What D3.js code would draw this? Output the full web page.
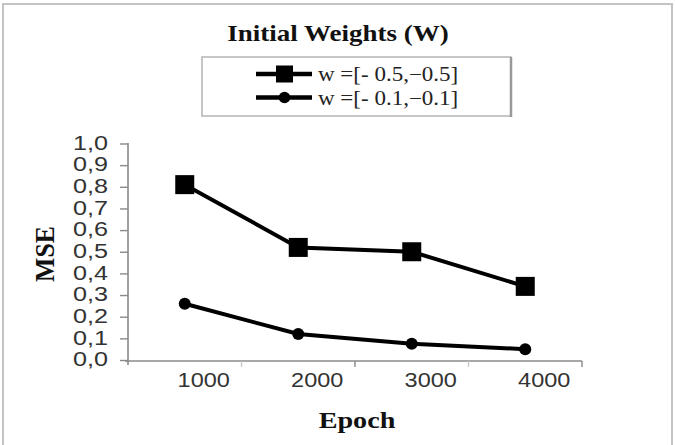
<!DOCTYPE html>
<html><head><meta charset="utf-8">
<script src="https://cdn.jsdelivr.net/npm/d3@7"></script>
<style>html,body{margin:0;padding:0;background:#fff;}svg{display:block;}</style>
</head><body>
<svg id="chart" width="675" height="445"></svg>
<script>
const categories = ["1000", "2000", "3000", "4000"];
const seriesNames = ["w =[- 0.5,\u22120.5]", "w =[- 0.1,\u22120.1]"];
const seriesA = [0.81, 0.52, 0.50, 0.34];
const seriesB = [0.26, 0.12, 0.075, 0.05];
const yTicks = [0, 0.1, 0.2, 0.3, 0.4, 0.5, 0.6, 0.7, 0.8, 0.9, 1.0];

const svg = d3.select("#chart");
const SX = 1.2; // horizontal text stretch of the reference

// outer border
svg.append("rect").attr("x", 3).attr("y", 4).attr("width", 669).attr("height", 460)
  .attr("fill", "none").attr("stroke", "#c4c4c4").attr("stroke-width", 2);

const x = d3.scaleBand().domain(categories).range([128, 582]).padding(0);
const y = d3.scaleLinear().domain([0, 1]).range([360, 143.5]);
const cx = d => x(d) + x.bandwidth() / 2;

const loc = d3.formatLocale({decimal: ",", thousands: ".", grouping: [3], currency: ["", ""]});
const fmt = loc.format(".1f");

// Y axis
const gy = svg.append("g").attr("transform", "translate(128,0)")
  .call(d3.axisLeft(y).tickValues(yTicks).tickFormat(fmt).tickSize(8).tickPadding(12).tickSizeOuter(0));
gy.select(".domain").attr("stroke", "#8a8a8a").attr("stroke-width", 1.6)
  .attr("d", "M0," + (y(1) - 0.5) + "V" + (y(0) + 5));
gy.selectAll(".tick line").attr("stroke", "#8a8a8a").attr("stroke-width", 1.4);
gy.selectAll(".tick text")
  .attr("font-family", "Liberation Sans, Arial, sans-serif").attr("font-size", 21)
  .attr("fill", "#333").attr("x", -20 / SX).attr("dy", "0.27em")
  .attr("transform", `scale(${SX},1)`);

// X axis
const gx = svg.append("g").attr("transform", "translate(0,361)");
gx.append("line").attr("x1", 125).attr("x2", x.range()[1]).attr("y1", 0).attr("y2", 0)
  .attr("stroke", "#8a8a8a").attr("stroke-width", 1.6);
const bounds = categories.map(d => x(d)).slice(1).concat([x.range()[1]]);
gx.selectAll("line.tk").data(bounds).join("line").attr("class", "tk")
  .attr("x1", d => d).attr("x2", d => d).attr("y1", 0).attr("y2", 6)
  .attr("stroke", (d, i) => i % 2 === 1 ? "#8a8a8a" : "#c8c8c8").attr("stroke-width", 1.4);
gx.selectAll("text").data(categories).join("text")
  .attr("transform", d => `translate(${cx(d) + 19},26) scale(1.12,1)`)
  .attr("text-anchor", "middle")
  .attr("font-family", "Liberation Sans, Arial, sans-serif").attr("font-size", 21)
  .attr("fill", "#333").text(d => d);

// lines
const line = d3.line().x((d, i) => cx(categories[i])).y(d => y(d));
svg.append("path").datum(seriesA).attr("d", line).attr("fill", "none")
  .attr("stroke", "#000").attr("stroke-width", 4);
svg.append("path").datum(seriesB).attr("d", line).attr("fill", "none")
  .attr("stroke", "#000").attr("stroke-width", 4);
const sq = 19;
svg.selectAll("rect.mA").data(seriesA).join("rect").attr("class", "mA")
  .attr("x", (d, i) => cx(categories[i]) - sq / 2).attr("y", d => y(d) - sq / 2)
  .attr("width", sq).attr("height", sq).attr("fill", "#000");
svg.selectAll("circle.mB").data(seriesB).join("circle").attr("class", "mB")
  .attr("cx", (d, i) => cx(categories[i])).attr("cy", d => y(d)).attr("r", 6).attr("fill", "#000");

// Title
svg.append("text").attr("transform", `translate(338,41) scale(${SX},1)`)
  .attr("text-anchor", "middle").attr("font-family", "Liberation Serif, Times New Roman, serif")
  .attr("font-weight", "bold").attr("font-size", 22.5).attr("fill", "#111").text("Initial Weights (W)");

// Legend
svg.append("rect").attr("x", 202).attr("y", 57).attr("width", 309).attr("height", 59)
  .attr("fill", "#fff").attr("stroke", "#b4b4b4").attr("stroke-width", 1.5);
svg.append("line").attr("x1", 511).attr("x2", 511).attr("y1", 57).attr("y2", 117)
  .attr("stroke", "#999").attr("stroke-width", 2.5);
const legY = [74, 97.5];
seriesNames.forEach((name, i) => {
  const g = svg.append("g").attr("transform", `translate(0,${legY[i]})`);
  g.append("line").attr("x1", 256).attr("x2", 312).attr("stroke", "#000").attr("stroke-width", 4.5);
  if (i === 0) g.append("rect").attr("x", 276).attr("y", -8.5).attr("width", 17).attr("height", 17).attr("fill", "#000");
  else g.append("circle").attr("cx", 284.5).attr("cy", 0).attr("r", 5.8).attr("fill", "#000");
  g.append("text").attr("transform", `translate(318,7) scale(1.15,1)`)
    .attr("font-family", "Liberation Serif, Times New Roman, serif").attr("font-size", 20)
    .attr("fill", "#222").text(name);
});

// Axis titles
svg.append("text").attr("transform", `translate(54,254) rotate(-90) scale(1.12,1.2)`)
  .attr("text-anchor", "middle").attr("font-family", "Liberation Serif, Times New Roman, serif")
  .attr("font-weight", "bold").attr("font-size", 23).attr("fill", "#111").text("MSE");
svg.append("text").attr("transform", `translate(357,428) scale(${SX},1)`)
  .attr("text-anchor", "middle").attr("font-family", "Liberation Serif, Times New Roman, serif")
  .attr("font-weight", "bold").attr("font-size", 23.5).attr("fill", "#111").text("Epoch");
</script>
</body></html>
